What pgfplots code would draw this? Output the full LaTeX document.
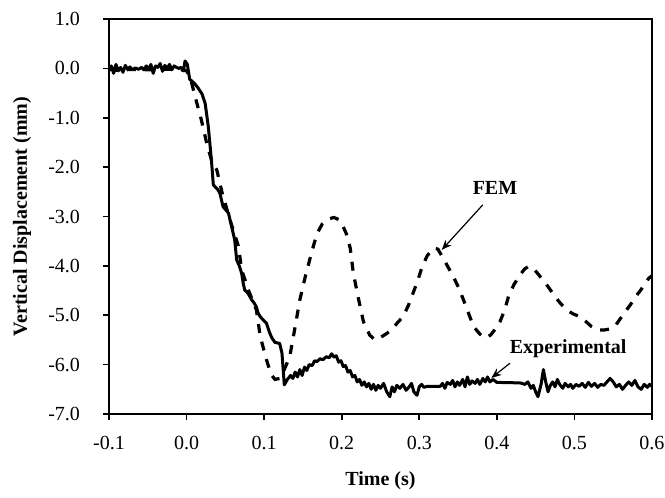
\documentclass[border=0pt]{standalone}
\usepackage{pgfplots}
\pgfplotsset{compat=1.18}
\usepackage{fontspec}
\setmainfont{Liberation Serif}
\usetikzlibrary{arrows.meta}
\begin{document}
\begin{tikzpicture}
\begin{axis}[
  scale only axis, width=271.5pt, height=197.5pt,
  xmin=-0.1, xmax=0.6, ymin=-7, ymax=1,
  xtick={-0.1,0,0.1,0.2,0.3,0.4,0.5,0.6},
  xticklabels={-0.1,0.0,0.1,0.2,0.3,0.4,0.5,0.6},
  ytick={-7,-6,-5,-4,-3,-2,-1,0,1},
  yticklabels={-7.0,-6.0,-5.0,-4.0,-3.0,-2.0,-1.0,0.0,1.0},
  tick pos=left, tick align=outside, major tick length=3pt,
  tick style={line width=0.8pt, black},
  axis line style={line width=0.8pt},
  every tick label/.append style={font=\fontsize{10}{12}\selectfont},
  yticklabel style={xshift=-8pt},
  xticklabel style={yshift=-4.5pt},
  xlabel={\bfseries Time (s)},
  ylabel={\bfseries Vertical Displacement (mm)},
  label style={font=\fontsize{10}{12}\selectfont},
  xlabel style={at={(axis description cs:0.5,0)}, anchor=center, yshift=-33.5pt},
  ylabel style={at={(axis description cs:0,0.5)}, anchor=center, yshift=43.5pt},
  clip=false,
]
\addplot[black, line width=1.6pt, dash pattern=on 4.5pt off 4.5pt] coordinates {
(-0.100,-0.02) (-0.090,-0.04) (-0.070,-0.02) (-0.050,-0.03) (-0.030,-0.02) (-0.010,-0.02) (0.000,-0.05)
(0.005,-0.20) (0.011,-0.57) (0.019,-1.04) (0.026,-1.52) (0.032,-1.85) (0.039,-2.06) (0.046,-2.53)
(0.056,-3.07) (0.067,-3.61) (0.071,-4.08) (0.080,-4.50) (0.090,-4.89) (0.095,-5.43) (0.103,-5.90)
(0.109,-6.20) (0.114,-6.30) (0.120,-6.28) (0.126,-6.10) (0.133,-5.84) (0.140,-5.23) (0.146,-4.69)
(0.153,-4.22) (0.161,-3.74) (0.168,-3.35) (0.175,-3.15) (0.183,-3.05) (0.190,-3.02) (0.196,-3.06)
(0.200,-3.14) (0.206,-3.35) (0.211,-3.64) (0.215,-4.15) (0.221,-4.62) (0.228,-5.13) (0.236,-5.40)
(0.243,-5.50) (0.250,-5.45) (0.257,-5.38) (0.264,-5.30) (0.272,-5.15) (0.279,-5.03) (0.286,-4.80)
(0.292,-4.55) (0.298,-4.30) (0.303,-4.05) (0.310,-3.80) (0.318,-3.64) (0.324,-3.66) (0.331,-3.85)
(0.338,-4.05) (0.344,-4.22) (0.351,-4.45) (0.357,-4.69) (0.364,-4.98) (0.370,-5.23) (0.378,-5.38)
(0.385,-5.46) (0.392,-5.40) (0.398,-5.28) (0.404,-5.13) (0.410,-4.90) (0.415,-4.62) (0.422,-4.38)
(0.430,-4.18) (0.436,-4.06) (0.441,-4.01) (0.447,-4.05) (0.454,-4.18) (0.460,-4.30) (0.466,-4.42)
(0.474,-4.60) (0.482,-4.76) (0.490,-4.89) (0.498,-4.97) (0.507,-5.03) (0.515,-5.13) (0.522,-5.23)
(0.530,-5.30) (0.538,-5.30) (0.545,-5.28) (0.552,-5.23) (0.560,-5.05) (0.566,-4.92) (0.572,-4.79)
(0.580,-4.60) (0.586,-4.48) (0.591,-4.35) (0.596,-4.25) (0.600,-4.20)
};
\addplot[black, line width=1.5pt, line join=round] coordinates {
(-0.100,-0.05) (-0.097,0.05) (-0.094,-0.10) (-0.091,0.08) (-0.088,-0.05) (-0.085,0.02) (-0.082,-0.08)
(-0.079,0.06) (-0.076,-0.02) (-0.073,0.03) (-0.070,-0.03) (-0.066,0.01) (-0.062,-0.02) (-0.058,0.02)
(-0.055,-0.03) (-0.052,0.05) (-0.049,-0.02) (-0.046,0.08) (-0.043,-0.10) (-0.040,0.05) (-0.037,0.02)
(-0.034,0.10) (-0.031,-0.06) (-0.028,0.06) (-0.025,0.00) (-0.022,0.08) (-0.019,-0.03) (-0.016,0.05)
(-0.013,0.02) (-0.010,0.00) (-0.007,0.02) (-0.004,-0.05) (-0.002,0.15) (0.001,0.08) (0.004,-0.22)
(0.010,-0.30) (0.015,-0.40) (0.020,-0.52) (0.024,-0.71) (0.028,-1.18) (0.032,-1.85) (0.0345,-2.36)
(0.040,-2.45) (0.043,-2.53) (0.047,-2.80) (0.054,-2.93) (0.058,-3.20) (0.062,-3.47) (0.0646,-3.88)
(0.068,-4.00) (0.071,-4.15) (0.073,-4.35) (0.075,-4.49) (0.079,-4.55) (0.084,-4.69) (0.087,-4.75)
(0.090,-4.83) (0.092,-4.95) (0.095,-5.03) (0.099,-5.10) (0.103,-5.16) (0.107,-5.35) (0.110,-5.46)
(0.114,-5.55) (0.120,-5.57) (0.123,-5.77) (0.126,-6.41) (0.130,-6.30) (0.134,-6.22) (0.137,-6.28)
(0.140,-6.15) (0.143,-6.25) (0.146,-6.10) (0.149,-6.22) (0.152,-6.05) (0.155,-6.12) (0.158,-6.00)
(0.162,-6.02) (0.165,-5.92) (0.168,-5.94) (0.172,-5.88) (0.176,-5.90) (0.180,-5.84) (0.184,-5.86)
(0.187,-5.78) (0.190,-5.85) (0.193,-5.82) (0.196,-5.95) (0.199,-5.92) (0.202,-6.04) (0.205,-6.02)
(0.208,-6.15) (0.211,-6.12) (0.214,-6.25) (0.217,-6.22) (0.220,-6.35) (0.223,-6.30) (0.226,-6.42)
(0.229,-6.35) (0.232,-6.45) (0.235,-6.38) (0.238,-6.50) (0.241,-6.40) (0.244,-6.52) (0.247,-6.42)
(0.250,-6.48) (0.254,-6.38) (0.258,-6.55) (0.262,-6.65) (0.265,-6.45) (0.268,-6.55) (0.271,-6.42)
(0.275,-6.48) (0.279,-6.40) (0.283,-6.52) (0.287,-6.45) (0.290,-6.38) (0.293,-6.55) (0.297,-6.62)
(0.300,-6.45) (0.303,-6.40) (0.306,-6.46) (0.310,-6.44) (0.327,-6.44) (0.330,-6.38) (0.333,-6.48)
(0.336,-6.36) (0.340,-6.40) (0.343,-6.32) (0.346,-6.45) (0.349,-6.35) (0.352,-6.42) (0.356,-6.30)
(0.359,-6.45) (0.362,-6.25) (0.365,-6.40) (0.368,-6.33) (0.372,-6.38) (0.375,-6.30) (0.378,-6.40)
(0.382,-6.28) (0.385,-6.35) (0.388,-6.25) (0.391,-6.35) (0.395,-6.30) (0.400,-6.36) (0.430,-6.37)
(0.436,-6.40) (0.440,-6.35) (0.444,-6.48) (0.447,-6.42) (0.450,-6.55) (0.453,-6.65) (0.457,-6.40)
(0.460,-6.10) (0.463,-6.35) (0.466,-6.55) (0.469,-6.42) (0.472,-6.35) (0.475,-6.45) (0.478,-6.30)
(0.481,-6.40) (0.485,-6.48) (0.488,-6.38) (0.492,-6.45) (0.495,-6.40) (0.498,-6.48) (0.502,-6.40)
(0.506,-6.44) (0.510,-6.38) (0.514,-6.46) (0.518,-6.36) (0.522,-6.44) (0.526,-6.38) (0.530,-6.46)
(0.534,-6.40) (0.538,-6.42) (0.542,-6.35) (0.546,-6.28) (0.550,-6.35) (0.554,-6.45) (0.558,-6.40)
(0.562,-6.50) (0.566,-6.42) (0.570,-6.35) (0.574,-6.42) (0.578,-6.32) (0.582,-6.45) (0.586,-6.50)
(0.590,-6.40) (0.594,-6.46) (0.597,-6.40) (0.600,-6.44)
};
\node[font=\fontsize{10}{12}\selectfont\bfseries] at (axis cs:0.3976,-2.42) {FEM};
\draw[line width=0.6pt, -{Stealth[length=5pt,width=4pt]}] (axis cs:0.3818,-2.765) -- (axis cs:0.329,-3.676);
\node[font=\fontsize{10}{12}\selectfont\bfseries] at (axis cs:0.492,-5.67) {Experimental};
\draw[line width=0.6pt, -{Stealth[length=5pt,width=4pt]}] (axis cs:0.417,-5.97) -- (axis cs:0.393,-6.27);
\end{axis}
\pgfresetboundingbox
\path (-54.5pt,-42pt) rectangle (278pt,207pt);
\end{tikzpicture}
\end{document}
